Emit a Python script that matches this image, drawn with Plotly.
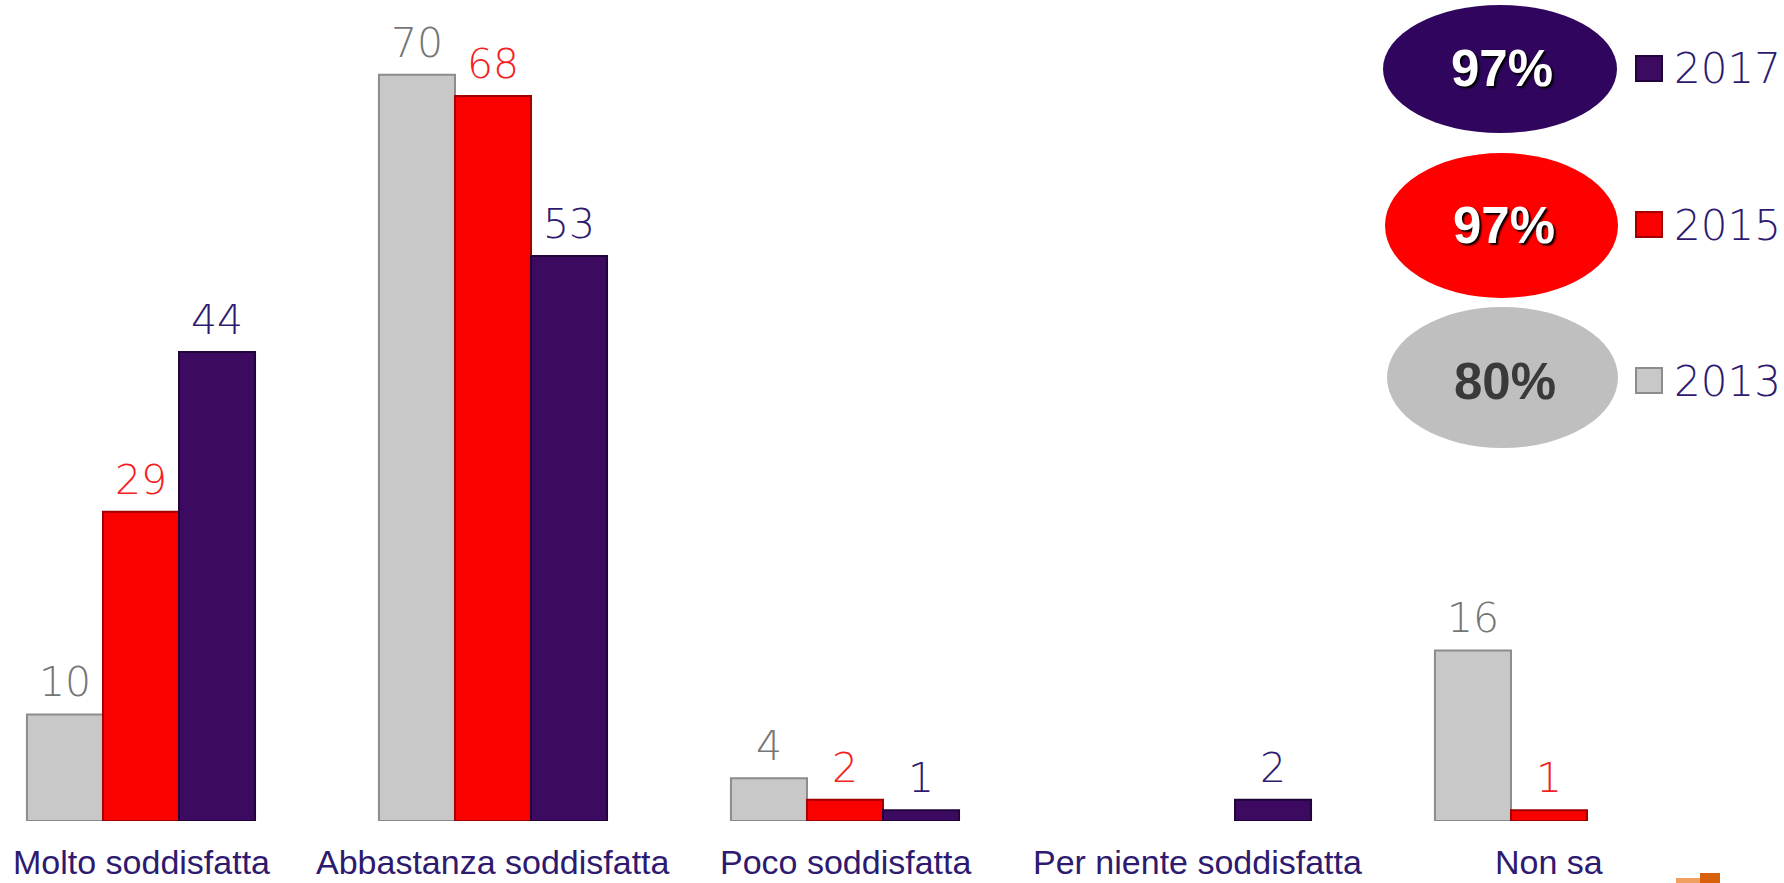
import plotly.graph_objects as go

categories = ["Molto soddisfatta", "Abbastanza soddisfatta", "Poco soddisfatta",
              "Per niente soddisfatta", "Non sa"]
series_names = ["2013", "2015", "2017"]
values_2013 = [10, 70, 4, None, 16]
values_2015 = [29, 68, 2, None, 1]
values_2017 = [44, 53, 1, 2, None]
totals = ["80%", "97%", "97%"]  # 2013, 2015, 2017

series_values = [values_2013, values_2015, values_2017]
bar_colors = ["#c8c8c8", "#fa0000", "#3d0a62"]
edge_colors = ["#8c8c8c", "#a00000", "#22043a"]
label_colors = ["#767676", "#f41f1f", "#2e1a6e"]
ellipse_colors = ["#bfbfbf", "#ff0000", "#2f055e"]
total_colors = ["#3a3a3a", "#ffffff", "#ffffff"]

W, H = 1784, 883
BASE = 821  # baseline pixel row
PX_PER_UNIT = 10.66
CAT_PX = 352.0
FIRST_CAT_PX = 141.0
bargap = 0.352
bar_w = (1 - bargap) / 3

x_lo = -FIRST_CAT_PX / CAT_PX
x_hi = x_lo + W / CAT_PX
y_hi = BASE / PX_PER_UNIT

VAL_FONT = "DejaVu Sans, Liberation Sans, Arial"
LAB_FONT = "Liberation Sans, Arial"

fig = go.Figure()
for name, vals, col, edge in zip(series_names, series_values, bar_colors, edge_colors):
    fig.add_trace(go.Bar(
        x=list(range(len(categories))), y=vals, name=name,
        marker=dict(color=col, line=dict(color=edge, width=2)),
        showlegend=False, hoverinfo="skip",
    ))

annotations = []
for si, (vals, lc) in enumerate(zip(series_values, label_colors)):
    off = (si - 1) * bar_w
    for ci, v in enumerate(vals):
        if v is None:
            continue
        annotations.append(dict(
            x=ci + off, y=v, xref="x", yref="y", text=str(v), showarrow=False,
            yanchor="bottom", yshift=6,
            font=dict(family=VAL_FONT, size=41, color=lc, weight=200),
        ))

# category labels
for ci, c in enumerate(categories):
    annotations.append(dict(
        x=ci, y=0, xref="x", yref="y", text=c, showarrow=False,
        yanchor="middle", yshift=-(862 - BASE),
        font=dict(family=LAB_FONT, size=34, color="#2e1a6e"),
    ))

def px(xp):
    return xp / W

def py(yp):
    return (BASE - yp) / BASE

shapes = []
# legend: ellipses with totals, marker squares and year labels (top to bottom: 2017, 2015, 2013)
ell = [(1387, 1618, 307, 448, 381), (1385, 1618, 153, 298, 225), (1383, 1617, 5, 133, 69)]
for i in range(3):
    x0, x1, y0, y1, yc = ell[i]
    shapes.append(dict(type="circle", xref="paper", yref="paper",
                       x0=px(x0), x1=px(x1), y0=py(y1), y1=py(y0),
                       fillcolor=ellipse_colors[i], line=dict(width=0), layer="above"))
    shadow = "2px 2px 2px #000000" if total_colors[i] == "#ffffff" else "none"
    annotations.append(dict(
        x=px((x0 + x1) / 2 + 2), y=py(yc), xref="paper", yref="paper", text="<b>" + totals[i] + "</b>",
        showarrow=False, xanchor="center", yanchor="middle",
        font=dict(family=LAB_FONT, size=51, color=total_colors[i], shadow=shadow),
    ))
    shapes.append(dict(type="rect", xref="paper", yref="paper",
                       x0=px(1636), x1=px(1662), y0=py(yc + 12), y1=py(yc - 13),
                       fillcolor=bar_colors[i], line=dict(color=edge_colors[i], width=2), layer="above"))
    annotations.append(dict(
        x=px(1672), y=py(yc), xref="paper", yref="paper", text=series_names[i],
        showarrow=False, xanchor="left", yanchor="middle",
        font=dict(family=VAL_FONT, size=42, color="#2e1a6e", weight=200),
    ))

# small orange logo fragment bottom right
shapes.append(dict(type="rect", xref="paper", yref="paper", x0=px(1676), x1=px(1700),
                   y0=py(883), y1=py(878), fillcolor="#f0a060", line=dict(width=0)))
shapes.append(dict(type="rect", xref="paper", yref="paper", x0=px(1700), x1=px(1720),
                   y0=py(883), y1=py(873), fillcolor="#d8600a", line=dict(width=0)))

fig.update_layout(
    width=W, height=H,
    margin=dict(l=0, r=0, t=0, b=H - BASE, pad=0),
    barmode="group", bargap=bargap, bargroupgap=0,
    plot_bgcolor="white", paper_bgcolor="white",
    xaxis=dict(range=[x_lo, x_hi], showticklabels=False, showgrid=False,
               zeroline=False, showline=False, ticks=""),
    yaxis=dict(range=[0, y_hi], showticklabels=False, showgrid=False,
               zeroline=False, showline=False, ticks=""),
    annotations=annotations, shapes=shapes,
    showlegend=False,
)

fig.write_html("out.html", config={"displayModeBar": False},
               post_script="document.body.style.margin='0px';document.body.style.overflow='hidden';")
